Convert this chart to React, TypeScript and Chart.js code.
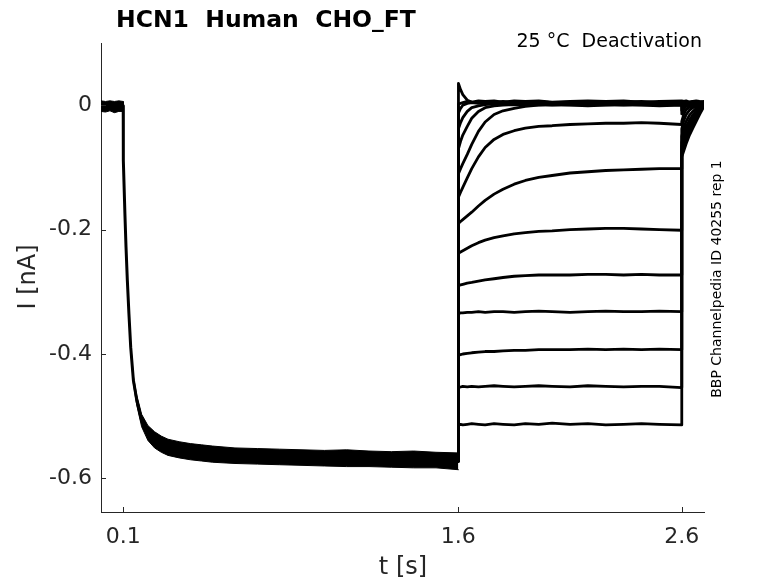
import React, { useEffect, useRef } from "react";
import Chart from "chart.js/auto";

const titleText = "HCN1  Human  CHO_FT";
const subtitleText = "25 °C  Deactivation";
const sideText = "BBP Channelpedia ID 40255 rep 1";

const xTicks = [0.1, 1.6, 2.6];
const yTicks = [-0.6, -0.4, -0.2, 0];

// activation step (same for every sweep): time, centre and noise band
const actTime = [0, 0.02, 0.04, 0.06, 0.08, 0.0995, 0.1, 0.107, 0.112, 0.118, 0.125, 0.133, 0.145, 0.16, 0.182, 0.21, 0.24, 0.27, 0.3, 0.35, 0.4, 0.45, 0.5, 0.6, 0.7, 0.8, 0.9, 1.0, 1.1, 1.2, 1.3, 1.4, 1.5, 1.6];
const actCentre = [-0.001, -0.002, 0.0, -0.002, -0.001, -0.001, -0.089, -0.174, -0.228, -0.282, -0.335, -0.389, -0.442, -0.474, -0.507, -0.527, -0.538, -0.545, -0.55, -0.554, -0.557, -0.559, -0.561, -0.563, -0.564, -0.565, -0.566, -0.567, -0.567, -0.568, -0.569, -0.569, -0.57, -0.572];
const actTop = [0.007, 0.006, 0.007, 0.006, 0.007, 0.006, -0.085, -0.17, -0.224, -0.278, -0.331, -0.384, -0.436, -0.466, -0.497, -0.515, -0.525, -0.532, -0.537, -0.541, -0.544, -0.546, -0.548, -0.551, -0.552, -0.553, -0.554, -0.555, -0.554, -0.556, -0.557, -0.556, -0.558, -0.559];
const actBottom = [-0.01, -0.011, -0.009, -0.012, -0.01, -0.01, -0.093, -0.178, -0.232, -0.286, -0.339, -0.394, -0.448, -0.482, -0.517, -0.539, -0.551, -0.558, -0.563, -0.567, -0.57, -0.572, -0.574, -0.576, -0.577, -0.578, -0.579, -0.58, -0.581, -0.581, -0.582, -0.583, -0.583, -0.586];

// test steps
const stepTime = [1.6005, 1.61, 1.62, 1.64, 1.66, 1.69, 1.72, 1.76, 1.8, 1.85, 1.9, 1.96, 2.02, 2.1, 2.18, 2.26, 2.34, 2.42, 2.5, 2.6];
const stepSweeps = [
  [0.035, 0.025, 0.017, 0.008, 0.005, 0.004, 0.005, 0.004, 0.006, 0.004, 0.005, 0.006, 0.004, 0.005, 0.006, 0.004, 0.005, 0.006, 0.004, 0.005],
  [0.002, 0.003, 0.004, 0.006, 0.005, 0.007, 0.006, 0.007, 0.005, 0.007, 0.006, 0.007, 0.005, 0.006, 0.007, 0.006, 0.007, 0.005, 0.006, 0.007],
  [-0.013, -0.005, 0.0, 0.003, 0.004, 0.003, 0.004, 0.003, 0.004, 0.003, 0.004, 0.003, 0.004, 0.003, 0.004, 0.003, 0.004, 0.003, 0.004, 0.003],
  [-0.038, -0.028, -0.02, -0.01, -0.004, -0.001, 0.001, 0.002, 0.001, 0.002, 0.001, 0.002, 0.001, 0.002, 0.001, 0.002, 0.001, 0.002, 0.001, 0.002],
  [-0.07, -0.058, -0.048, -0.034, -0.021, -0.01, -0.004, -0.001, 0.0, 0.001, 0.0, 0.001, 0.0, 0.001, 0.0, 0.001, 0.0, 0.001, 0.0, 0.001],
  [-0.11, -0.102, -0.094, -0.079, -0.063, -0.042, -0.027, -0.015, -0.009, -0.005, -0.002, 0.0, 0.001, 0.0, -0.001, 0.0, 0.001, 0.0, -0.001, 0.0],
  [-0.148, -0.14, -0.132, -0.117, -0.102, -0.083, -0.068, -0.055, -0.047, -0.041, -0.037, -0.034, -0.033, -0.031, -0.03, -0.029, -0.029, -0.028, -0.029, -0.031],
  [-0.19, -0.187, -0.184, -0.178, -0.172, -0.162, -0.153, -0.143, -0.135, -0.127, -0.121, -0.116, -0.113, -0.109, -0.107, -0.105, -0.104, -0.103, -0.102, -0.102],
  [-0.238, -0.236, -0.234, -0.23, -0.226, -0.221, -0.217, -0.213, -0.21, -0.207, -0.205, -0.203, -0.202, -0.2, -0.199, -0.198, -0.198, -0.199, -0.2, -0.201],
  [-0.29, -0.289, -0.288, -0.286, -0.285, -0.283, -0.281, -0.279, -0.277, -0.275, -0.274, -0.273, -0.273, -0.273, -0.272, -0.272, -0.273, -0.272, -0.273, -0.273],
  [-0.335, -0.334, -0.334, -0.333, -0.333, -0.332, -0.333, -0.332, -0.332, -0.333, -0.332, -0.331, -0.332, -0.333, -0.332, -0.331, -0.332, -0.332, -0.331, -0.332],
  [-0.402, -0.401, -0.4, -0.399, -0.398, -0.397, -0.396, -0.396, -0.395, -0.394, -0.394, -0.393, -0.393, -0.393, -0.392, -0.393, -0.392, -0.393, -0.392, -0.393],
  [-0.454, -0.453, -0.452, -0.453, -0.452, -0.453, -0.452, -0.451, -0.452, -0.453, -0.452, -0.451, -0.452, -0.453, -0.451, -0.452, -0.453, -0.452, -0.452, -0.454],
  [-0.514, -0.513, -0.514, -0.513, -0.512, -0.513, -0.514, -0.512, -0.513, -0.514, -0.512, -0.513, -0.511, -0.513, -0.512, -0.514, -0.513, -0.512, -0.513, -0.514],
];

// tail currents after the step
const tailTime = [2.6005, 2.61, 2.62, 2.635, 2.65, 2.665, 2.68, 2.7];
const tailSweeps = [
  [0.005, 0.006, 0.004, 0.005, 0.006, 0.004, 0.005, 0.006],
  [0.007, 0.006, 0.007, 0.005, 0.006, 0.007, 0.006, 0.005],
  [0.003, 0.004, 0.003, 0.004, 0.003, 0.004, 0.003, 0.004],
  [0.0, 0.001, 0.002, 0.001, 0.002, 0.001, 0.002, 0.001],
  [-0.008, -0.003, 0.0, 0.001, 0.0, 0.001, 0.0, 0.001],
  [-0.014, -0.006, -0.002, 0.0, 0.0, 0.001, 0.0, 0.001],
  [-0.026, -0.014, -0.007, -0.003, -0.001, 0.0, 0.001, 0.0],
  [-0.038, -0.024, -0.015, -0.008, -0.004, -0.002, 0.0, 0.0],
  [-0.05, -0.036, -0.026, -0.016, -0.01, -0.005, -0.002, 0.0],
  [-0.06, -0.046, -0.035, -0.024, -0.016, -0.009, -0.004, 0.0],
  [-0.066, -0.053, -0.042, -0.03, -0.021, -0.013, -0.006, 0.0],
  [-0.072, -0.06, -0.049, -0.036, -0.026, -0.017, -0.009, -0.001],
  [-0.078, -0.067, -0.056, -0.042, -0.031, -0.021, -0.011, -0.001],
  [-0.083, -0.073, -0.062, -0.048, -0.037, -0.026, -0.015, -0.002],
];

const FONT = "'DejaVu Sans', sans-serif";
const AXIS_COLOR = "#262626";

const textPlugin = {
  id: "matlabText",
  afterDraw(chart: any) {
    const { ctx, chartArea } = chart;
    const x = chart.scales.x;
    const y = chart.scales.y;
    ctx.save();

    // inward tick marks
    ctx.strokeStyle = AXIS_COLOR;
    ctx.lineWidth = 1;
    ctx.beginPath();
    xTicks.forEach((v) => {
      const px = Math.round(x.getPixelForValue(v)) + 0.5;
      ctx.moveTo(px, chartArea.bottom);
      ctx.lineTo(px, chartArea.bottom - 5);
    });
    yTicks.forEach((v) => {
      const py = Math.round(y.getPixelForValue(v)) + 0.5;
      ctx.moveTo(chartArea.left, py);
      ctx.lineTo(chartArea.left + 5, py);
    });
    ctx.stroke();

    ctx.textBaseline = "alphabetic";

    ctx.fillStyle = "#000";
    ctx.font = "bold 23.5px " + FONT;
    ctx.textAlign = "left";
    ctx.fillText(titleText, 116, 27);

    ctx.font = "19px " + FONT;
    ctx.textAlign = "right";
    ctx.fillText(subtitleText, 702, 47);

    ctx.fillStyle = AXIS_COLOR;
    ctx.font = "24px " + FONT;
    ctx.textAlign = "center";
    ctx.fillText("t [s]", 403, 574);

    ctx.save();
    ctx.translate(35, 277);
    ctx.rotate(-Math.PI / 2);
    ctx.fillText("I [nA]", 0, 0);
    ctx.restore();

    ctx.fillStyle = "#000";
    ctx.font = "14px " + FONT;
    ctx.save();
    ctx.translate(721, 279);
    ctx.rotate(-Math.PI / 2);
    ctx.fillText(sideText, 0, 0);
    ctx.restore();

    ctx.restore();
  },
};

const App: React.FC = () => {
  const chartRef = useRef<HTMLCanvasElement | null>(null);
  const chartInstance = useRef<Chart | null>(null);

  useEffect(() => {
    document.body.style.margin = "0";
    if (!chartRef.current) return;
    if (chartInstance.current) chartInstance.current.destroy();

    const lastT = actTime[actTime.length - 1];
    const lastI = actCentre[actCentre.length - 1];

    const sweepSets = stepSweeps.map((vals, i) => ({
      data: [
        { x: lastT, y: lastI },
        ...stepTime.map((t, j) => ({ x: t, y: vals[j] })),
        ...tailTime.map((t, j) => ({ x: t, y: tailSweeps[i][j] })),
      ],
      borderColor: "#000",
      borderWidth: 2.8,
      fill: false,
    }));

    const ctx = chartRef.current.getContext("2d");
    if (!ctx) return;

    chartInstance.current = new Chart(ctx, {
      type: "line",
      data: {
        datasets: [
          {
            data: actTime.map((t, i) => ({ x: t, y: actTop[i] })),
            borderColor: "#000",
            borderWidth: 1,
            backgroundColor: "#000",
            fill: "+1",
          },
          {
            data: actTime.map((t, i) => ({ x: t, y: actBottom[i] })),
            borderColor: "#000",
            borderWidth: 1,
            fill: false,
          },
          {
            data: actTime.map((t, i) => ({ x: t, y: actCentre[i] })),
            borderColor: "#000",
            borderWidth: 3,
            fill: false,
          },
          ...sweepSets,
        ],
      },
      options: {
        animation: false,
        responsive: true,
        maintainAspectRatio: false,
        parsing: false,
        normalized: true,
        layout: { padding: { left: 0, right: 74, top: 43, bottom: 0 } },
        elements: {
          point: { radius: 0, hoverRadius: 0 },
          line: { tension: 0, borderJoinStyle: "round", borderCapStyle: "round" },
        },
        plugins: {
          legend: { display: false },
          title: { display: false },
          tooltip: { enabled: false },
        },
        events: [],
        scales: {
          x: {
            type: "linear",
            min: 0,
            max: 2.7,
            grid: { display: false, drawTicks: false },
            border: { display: true, color: AXIS_COLOR, width: 1 },
            afterBuildTicks: (scale: any) => {
              scale.ticks = xTicks.map((v) => ({ value: v }));
            },
            afterFit: (scale: any) => {
              scale.height = 71;
            },
            ticks: {
              color: AXIS_COLOR,
              font: { family: FONT, size: 22 },
              padding: 12,
              maxRotation: 0,
              autoSkip: false,
              callback: (v: any) => String(v),
            },
          },
          y: {
            type: "linear",
            min: -0.654,
            max: 0.1,
            grid: { display: false, drawTicks: false },
            border: { display: true, color: AXIS_COLOR, width: 1 },
            afterBuildTicks: (scale: any) => {
              scale.ticks = yTicks.map((v) => ({ value: v }));
            },
            afterFit: (scale: any) => {
              scale.width = 101;
            },
            ticks: {
              color: AXIS_COLOR,
              font: { family: FONT, size: 22 },
              padding: 9,
              autoSkip: false,
              callback: (v: any) => String(Math.round(v * 10) / 10),
            },
          },
        },
      },
      plugins: [textPlugin],
    });

    return () => {
      if (chartInstance.current) {
        chartInstance.current.destroy();
        chartInstance.current = null;
      }
    };
  }, []);

  return (
    <div style={{ position: "absolute", left: 0, top: 0, width: 778, height: 583, background: "#fff" }}>
      <canvas ref={chartRef} style={{ width: "100%", height: "100%" }} />
    </div>
  );
};

export default App;
